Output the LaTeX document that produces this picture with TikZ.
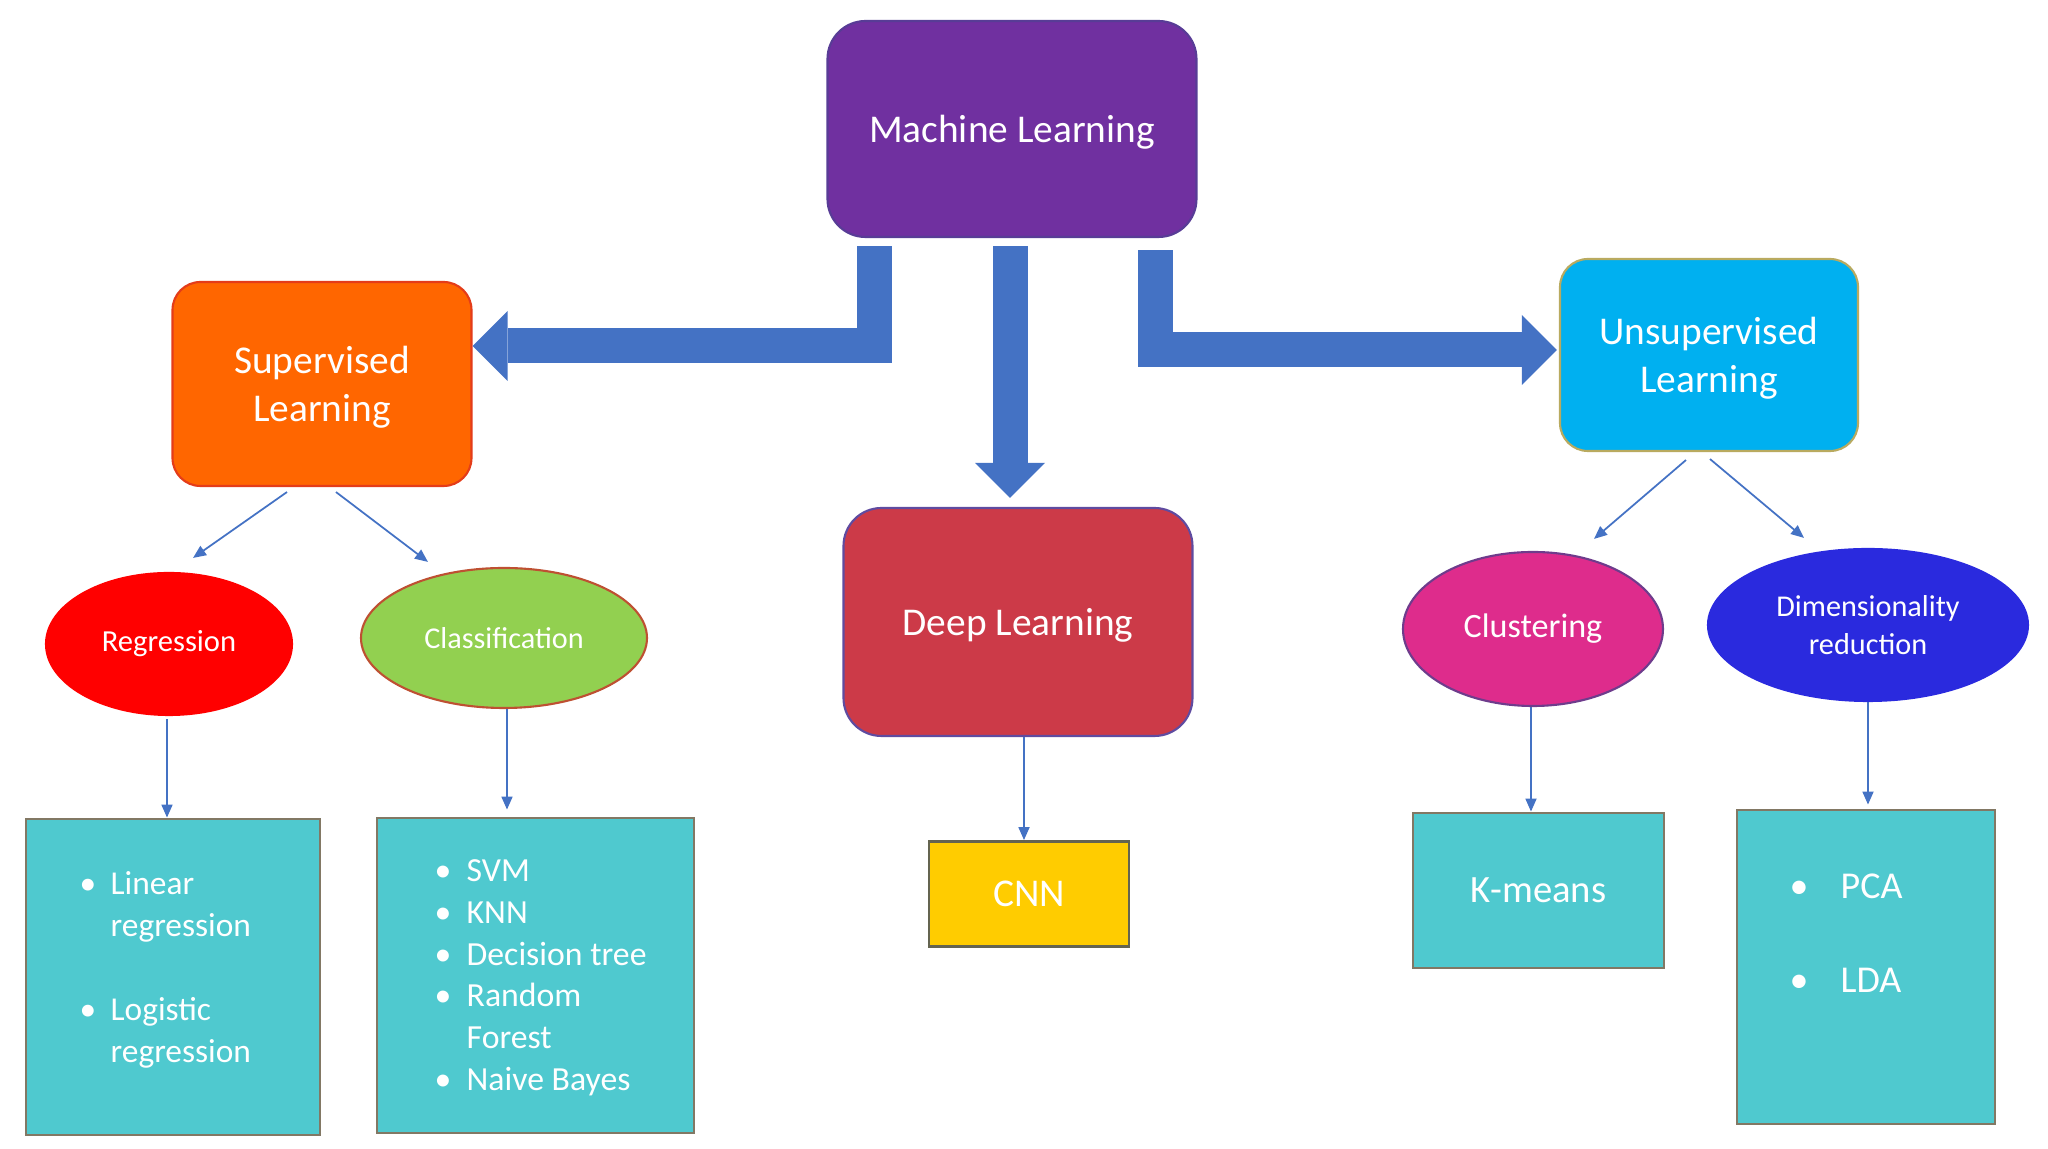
\documentclass[tikz,border=0pt]{standalone}
\usepackage{fontspec}
\setmainfont{Carlito}
\usepackage{xcolor}
\usepackage{tikz}
\usetikzlibrary{shapes.geometric, arrows.meta, positioning, calc}
\definecolor{mlpurple}{RGB}{112, 48, 160}
\definecolor{mledge}{RGB}{88, 60, 150}
\definecolor{suporange}{RGB}{255, 102, 0}
\definecolor{supedge}{RGB}{228, 60, 25}
\definecolor{unsupblue}{RGB}{0, 176, 240}
\definecolor{unsupedge}{RGB}{185, 170, 95}
\definecolor{deepred}{RGB}{204, 58, 72}
\definecolor{deepedge}{RGB}{95, 75, 160}
\definecolor{cnnyellow}{RGB}{255, 204, 0}
\definecolor{cnnedge}{RGB}{100, 100, 80}
\definecolor{regred}{RGB}{255, 0, 0}
\definecolor{clsgreen}{RGB}{146, 208, 80}
\definecolor{clsedge}{RGB}{190, 80, 50}
\definecolor{clustpink}{RGB}{222, 44, 140}
\definecolor{clustedge}{RGB}{110, 60, 140}
\definecolor{dimblue}{RGB}{42, 42, 222}
\definecolor{algoteal}{RGB}{79, 201, 207}
\definecolor{algoedge}{RGB}{130, 120, 100}
\definecolor{arrowblue}{RGB}{68, 114, 196}

\tikzset{
    topic/.style={rectangle, draw, line width=0.6pt, text=white, align=center, text depth=0pt,
        font=\fontsize{11.2}{13.7}\selectfont},
    method/.style={ellipse, draw, line width=0.6pt, text=white, align=center, inner sep=0pt},
    algo/.style={rectangle, draw=algoedge, fill=algoteal, line width=0.8pt, text=white},
    listtxt/.style={text=white, inner sep=0pt, anchor=base west},
    blockarrow/.style={draw=arrowblue, line width=0.35cm,
        -{Triangle[length=0.35cm, width=0.70cm, line width=0pt]}},
    thinarrow/.style={draw=arrowblue, line width=0.5pt,
        -{Triangle[length=0.13cm, width=0.11cm]}}
}

\begin{document}
\begin{tikzpicture}
\useasboundingbox (0,0) rectangle (20.48,11.49);

% Top level
\node[topic, fill=mlpurple, draw=mledge, rounded corners=0.38cm,
    minimum width=3.69cm, minimum height=2.16cm] (ml) at (10.12,10.20) {Machine Learning};

% Three branches
\node[topic, fill=suporange, draw=supedge, rounded corners=0.28cm,
    minimum width=2.99cm, minimum height=2.04cm] (sup) at (3.22,7.65) {Supervised\\Learning};
\node[topic, fill=unsupblue, draw=unsupedge, rounded corners=0.28cm,
    minimum width=2.98cm, minimum height=1.92cm] (unsup) at (17.09,7.94) {Unsupervised\\Learning};
\node[topic, fill=deepred, draw=deepedge, rounded corners=0.38cm,
    minimum width=3.49cm, minimum height=2.28cm] (dl) at (10.18,5.27) {Deep Learning};

\draw[blockarrow] ([xshift=-1.375cm, yshift=-0.08cm]ml.south) |- ([yshift=0.38cm]sup.east);
\draw[blockarrow] ([xshift=-0.02cm, yshift=-0.08cm]ml.south) -- ([xshift=-0.02cm, yshift=0.09cm]ml.south |- dl.north);
\draw[blockarrow] ([xshift=1.435cm, yshift=-0.12cm]ml.south) |- ([xshift=-0.02cm, yshift=0.05cm]unsup.west);

% Supervised side
\node[method, fill=regred, draw=regred, minimum width=2.46cm, minimum height=1.42cm,
    font=\fontsize{8.7}{10.8}\selectfont] (reg) at (1.69,5.05) {Regression};
\node[method, fill=clsgreen, draw=clsedge, minimum width=2.86cm, minimum height=1.40cm,
    font=\fontsize{8.6}{10.8}\selectfont] (cls) at (5.04,5.11) {Classification};

\draw[thinarrow] ([xshift=-0.35cm, yshift=-0.05cm]sup.south) -- ([xshift=0.24cm, yshift=0.14cm]reg.north);
\draw[thinarrow] ([xshift=0.14cm, yshift=-0.05cm]sup.south) -- ([xshift=-0.76cm, yshift=0.05cm]cls.north);

\node[algo, minimum width=2.94cm, minimum height=3.16cm] (lin) at (1.73,1.72) {};
\node[algo, minimum width=3.17cm, minimum height=3.15cm] (clsbox) at (5.355,1.735) {};

\node[listtxt, font=\fontsize{9.5}{11.95}\selectfont] (linlist) at (0.79,2.54) {%
    \begin{tabular}[t]{@{}p{0.31cm}@{}l@{}}
    \textbullet & Linear\\
                & regression\\[11.95pt]
    \textbullet & Logistic\\
                & regression
    \end{tabular}};
\node[listtxt, font=\fontsize{9.6}{11.84}\selectfont] (clslist) at (4.34,2.67) {%
    \begin{tabular}[t]{@{}p{0.32cm}@{}l@{}}
    \textbullet & SVM\\
    \textbullet & KNN\\
    \textbullet & Decision tree\\
    \textbullet & Random\\
                & Forest\\
    \textbullet & Naive Bayes
    \end{tabular}};

\draw[thinarrow] ([xshift=-0.02cm, yshift=-0.03cm]reg.south) -- ([xshift=-0.02cm]reg.south |- lin.north);
\draw[thinarrow] ([xshift=0.03cm]cls.south) -- ([xshift=0.03cm, yshift=0.07cm]cls.south |- clsbox.north);

% Deep learning side
\node[algo, fill=cnnyellow, draw=cnnedge, minimum width=2.00cm, minimum height=1.05cm,
    font=\fontsize{11.2}{13.7}\selectfont] (cnn) at (10.29,2.55) {\raisebox{-0.3ex}{CNN}};
\draw[thinarrow] ([xshift=0.06cm]dl.south) -- ([xshift=0.06cm]dl.south |- cnn.north);

% Unsupervised side
\node[method, fill=clustpink, draw=clustedge, minimum width=2.60cm, minimum height=1.54cm,
    font=\fontsize{9.7}{11.5}\selectfont] (clust) at (15.33,5.20) {Clustering};
\node[method, fill=dimblue, draw=dimblue, minimum width=3.20cm, minimum height=1.52cm,
    font=\fontsize{8.6}{10.8}\selectfont] (dim) at (18.68,5.24) {Dimensionality\\reduction};

\draw[thinarrow] ([xshift=-0.23cm, yshift=-0.08cm]unsup.south) -- ([xshift=0.61cm, yshift=0.12cm]clust.north);
\draw[thinarrow] ([xshift=0.01cm, yshift=-0.07cm]unsup.south) -- ([xshift=-0.64cm, yshift=0.10cm]dim.north);

\node[algo, minimum width=2.51cm, minimum height=1.55cm,
    font=\fontsize{11}{13.5}\selectfont] (km) at (15.385,2.585) {K-means};
\node[algo, minimum width=2.58cm, minimum height=3.14cm] (pca) at (18.66,1.82) {};
\node[listtxt, font=\fontsize{10.8}{13}\selectfont] (pcalist) at (17.89,2.50) {%
    \begin{tabular}[t]{@{}p{0.51cm}@{}l@{}}
    \textbullet & PCA\\[13.7pt]
    \textbullet & LDA
    \end{tabular}};

\draw[thinarrow] ([xshift=-0.02cm]clust.south) -- ([xshift=-0.02cm]clust.south |- km.north);
\draw[thinarrow] (dim.south) -- ([yshift=0.04cm]dim.south |- pca.north);
\end{tikzpicture}
\end{document}
